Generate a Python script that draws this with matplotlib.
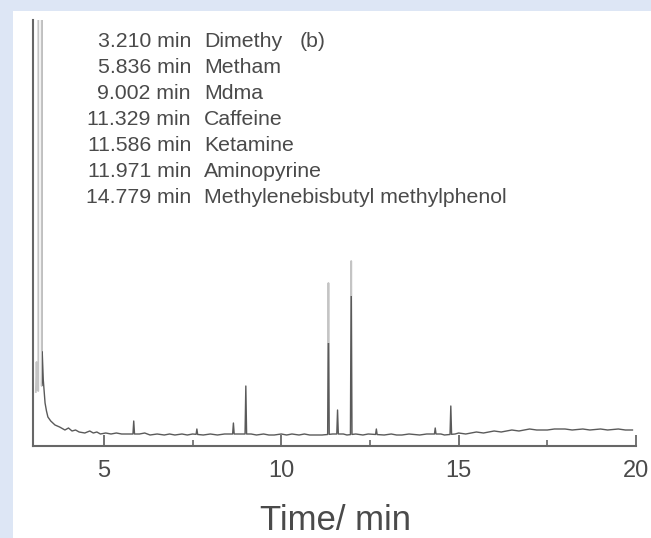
import numpy as np
import matplotlib
matplotlib.use("Agg")
import matplotlib.pyplot as plt
from matplotlib.patches import Rectangle, Polygon

plt.rcParams["font.family"] = ["Liberation Sans", "DejaVu Sans"]

# Identified compounds (retention time, name)
ret_times = ["3.210", "5.836", "9.002", "11.329", "11.586", "11.971", "14.779"]
compounds = ["Dimethy", "Metham", "Mdma", "Caffeine", "Ketamine",
             "Aminopyrine", "Methylenebisbutyl methylphenol"]

# Solvent front at the start of the run (off-scale apex)
front_t = [3.08, 3.10, 3.12, 3.15, 3.20, 3.245, 3.26]
front_y = [54, 84, 56, 55, 60000, 60, 94]

# Baseline after the solvent front
base_t = [3.29, 3.34, 3.38, 3.42, 3.50, 3.62, 3.75, 3.90, 4.00, 4.10, 4.20,
          4.30, 4.46, 4.60, 4.70, 4.80, 4.90, 5.05, 5.20, 5.35, 5.50, 5.70,
          6.00, 6.15, 6.30, 6.50, 6.70, 6.85, 7.00, 7.20, 7.35, 7.50, 7.80,
          8.00, 8.20, 8.40, 9.15, 9.30, 9.50, 9.65, 9.80, 10.00, 10.15, 10.30,
          10.50, 10.65, 10.80, 11.00, 11.15, 11.45, 11.75, 11.85, 12.10,
          12.30, 12.45, 12.90, 13.10, 13.25, 13.40, 13.60, 13.90, 14.10,
          14.50, 14.60, 14.90, 15.00, 15.20, 15.50, 15.70, 16.00, 16.20,
          16.50, 16.70, 17.00, 17.20, 17.50, 17.70, 18.00, 18.20, 18.50,
          18.70, 19.00, 19.20, 19.50, 19.70, 19.90]
base_y = [66, 43, 35, 29, 25, 21, 19, 16, 18, 15, 16,
          14, 13, 15, 13, 14, 12, 13, 12, 13, 12, 12,
          12, 13, 11, 12, 11, 12, 11, 12, 11, 12, 11,
          12, 11, 12, 12, 11, 12, 11, 11, 12, 11, 12,
          11, 12, 11, 11, 11, 12, 12, 11, 12,
          11, 12, 11, 12, 11, 11, 12, 11, 12,
          12, 11, 12, 13, 12, 14, 13, 15, 14,
          16, 15, 17, 16, 16, 17, 17, 16, 17,
          16, 17, 16, 17, 16, 16]

# Chromatographic peaks: apex time and apex height
peak_t = [5.84, 7.62, 8.65, 9.00, 11.329, 11.586, 11.971, 12.68, 14.34, 14.779]
peak_y = [25, 17, 23, 60, 163, 36, 185, 17, 18, 40]

PEAK_HALF_WIDTH = 0.022

# assemble the trace
t_pts = list(front_t) + list(base_t)
y_pts = list(front_y) + list(base_y)
for pt, py in zip(peak_t, peak_y):
    for tt in (pt - PEAK_HALF_WIDTH, pt + PEAK_HALF_WIDTH):
        t_pts.append(tt)
        y_pts.append(float(np.interp(tt, base_t, base_y)))
    t_pts.append(pt)
    y_pts.append(py)
order = np.argsort(t_pts, kind="stable")
trace_t = np.asarray(t_pts)[order]
trace_y = np.asarray(y_pts)[order]

DARK = "#5a5a5a"
LIGHT = "#c4c4c4"
TEXT = "#4a4a4a"
SPINE = "#676767"
W, H = 651, 538

fig = plt.figure(figsize=(W / 100, H / 100), dpi=100, facecolor="#dde6f5")
panel = fig.add_axes([13 / W, 0, 1 - 13 / W, (H - 11) / H], zorder=-5)
panel.set_axis_off()
panel.add_patch(Rectangle((0, 0), 1, 1, transform=panel.transAxes,
                          facecolor="white", edgecolor="none"))

ax = fig.add_axes([33 / W, 92 / H, 603 / W, 426 / H])
ax.set_facecolor("none")
ax.set_xlim(3, 20)
ax.set_ylim(0, 426)
TOP = 426

# high parts of the tall peaks render pale
light_boxes = [(2.9, -10, 3.25, TOP), (11.2, 103, 11.45, TOP),
               (11.85, 150, 12.1, TOP)]
dark_clip = Polygon([(3.25, -10), (20.5, -10), (20.5, TOP + 10),
                     (12.1, TOP + 10), (12.1, 150), (11.85, 150),
                     (11.85, TOP + 10), (11.45, TOP + 10), (11.45, 103),
                     (11.2, 103), (11.2, TOP + 10), (3.25, TOP + 10)],
                    closed=True, transform=ax.transData, facecolor="none")
line, = ax.plot(trace_t, trace_y, color=DARK, lw=1.0)
line.set_clip_path(dark_clip)
for x0, y0, x1, y1 in light_boxes:
    box = Rectangle((x0, y0), x1 - x0, y1 - y0, transform=ax.transData)
    ln, = ax.plot(trace_t, trace_y, color=LIGHT, lw=1.3)
    ln.set_clip_path(box)

for s in ("top", "right"):
    ax.spines[s].set_visible(False)
for s in ("left", "bottom"):
    ax.spines[s].set_color(SPINE)
    ax.spines[s].set_linewidth(1.5)

ax.set_yticks([])
ax.set_xticks([5, 10, 15, 20])
ax.set_xticks([7.5, 12.5, 17.5], minor=True)
ax.tick_params(axis="x", which="major", direction="in", length=8, width=1.3,
               color=SPINE, labelsize=17, labelcolor=TEXT, pad=10)
ax.tick_params(axis="x", which="minor", direction="in", length=4, width=1.2,
               color=SPINE)

ax.set_xlabel("Time/ min", fontsize=25, color=TEXT)
ax.xaxis.set_label_coords(0.501, -0.176)
ax.xaxis.label.set_va("center")

for i, (rt, name) in enumerate(zip(ret_times, compounds)):
    y = 0.949 - 0.061 * i
    ax.text(0.262, y, f"{rt} min", ha="right", va="center", fontsize=15.3,
            color=TEXT, transform=ax.transAxes)
    ax.text(0.284, y, name, ha="left", va="center", fontsize=15.3,
            color=TEXT, transform=ax.transAxes)
ax.text(0.463, 0.949, "(b)", ha="center", va="center", fontsize=15.3,
        color=TEXT, transform=ax.transAxes)

fig.savefig("out.png", dpi=100, facecolor=fig.get_facecolor())
